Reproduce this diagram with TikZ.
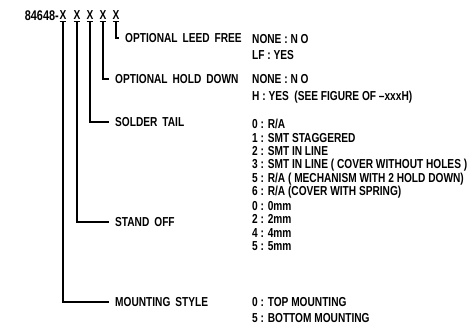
\documentclass[tikz,border=0pt]{standalone}
\usepackage{fontspec}
\setmainfont[FakeStretch=0.78]{Liberation Sans}
\usetikzlibrary{positioning}

\newcommand{\wsp}{\hspace{5pt}}

\begin{document}
\begin{tikzpicture}[x=1pt, y=-1pt,
      font=\bfseries\fontsize{13}{15}\selectfont,
      xmark/.style={inner sep=0.5pt},
      lbl/.style={anchor=west, inner sep=0pt},
      opt/.style={anchor=north west, inner sep=0pt, align=left},
      lead/.style={line width=1.4pt, shorten >=6pt}
    ]
    \useasboundingbox (0,0) rectangle (473,336);

    % part number with its five code letters
    \node[anchor=east, inner sep=0pt, font=\bfseries\fontsize{14}{15}\selectfont]
      (pn) at (59,16) {84648-};
    \node[xmark] (x1) at (63,16)  {\underline{X}};
    \node[xmark] (x2) at (77,16)  {\underline{X}};
    \node[xmark] (x3) at (90,16)  {\underline{X}};
    \node[xmark] (x4) at (103,16) {\underline{X}};
    \node[xmark] (x5) at (116,16) {\underline{X}};

    % what each letter stands for
    \node[lbl] (lf) at (125,38)  {OPTIONAL\wsp LEED\wsp FREE};
    \node[lbl] (hd) at (115,79)  {OPTIONAL\wsp HOLD\wsp DOWN};
    \node[lbl] (st) at (115,122) {SOLDER\wsp TAIL};
    \node[lbl] (so) at (115,222) {STAND\wsp OFF};
    \node[lbl] (ms) at (115,302) {MOUNTING\wsp STYLE};

    \draw[lead] (x5.south) |- (lf.west);
    \draw[lead] (x4.south) |- (hd.west);
    \draw[lead] (x3.south) |- (st.west);
    \draw[lead] (x2.south) |- (so.west);
    \draw[lead] (x1.south) |- (ms.west);

    % the choices
    \node[opt, font=\bfseries\fontsize{13}{16}\selectfont] (optlf) at (252,34)
      {NONE : N O\\LF : YES};
    \node[opt, font=\bfseries\fontsize{13}{17}\selectfont] (opthd) at (252,74)
      {NONE : N O\\H : YES\ \ (SEE FIGURE OF --xxxH)};
    \node[opt, font=\bfseries\fontsize{13}{13.4}\selectfont] (optst) at (252,119)
      {0 : R/A\\1 : SMT STAGGERED\\2 : SMT IN LINE\\
       3 : SMT IN LINE ( COVER WITHOUT HOLES )\\
       5 : R/A ( MECHANISM WITH 2 HOLD DOWN)\\
       6 : R/A (COVER WITH SPRING)};
    \node[opt, font=\bfseries\fontsize{13}{13.5}\selectfont] (optso) at (252,201)
      {0 : 0mm\\2 : 2mm\\4 : 4mm\\5 : 5mm};
    \node[opt, font=\bfseries\fontsize{13}{16}\selectfont] (optms) at (252,297)
      {0 : TOP MOUNTING\\5 : BOTTOM MOUNTING};
  \end{tikzpicture}
\end{document}
